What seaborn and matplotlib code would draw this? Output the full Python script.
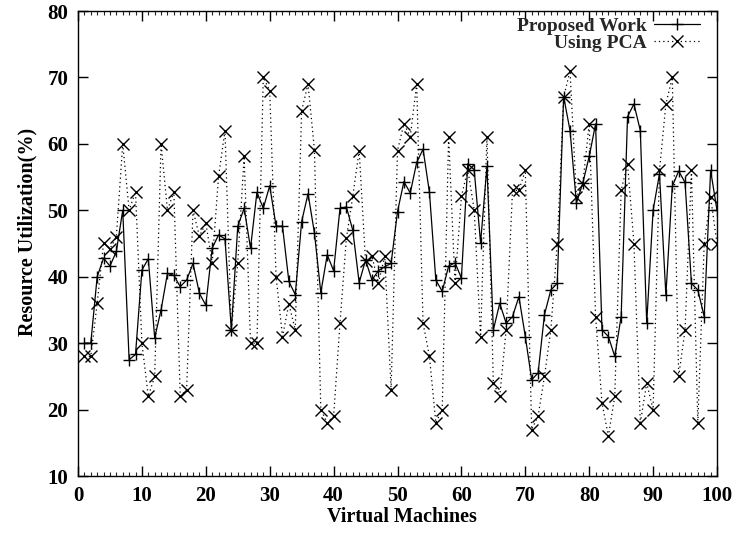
import matplotlib
matplotlib.use("Agg")
import matplotlib.pyplot as plt
import seaborn as sns
import numpy as np
import pandas as pd
from matplotlib.ticker import MultipleLocator

# ---- data ----
vms = list(range(1, 101))
proposed_work = [
    30, 30, 40, 42.8, 41.6, 43.8, 50, 27.5, 28.3, 41,
    42.7, 30.8, 35, 40.5, 40.2, 38.5, 39.5, 42, 37.5, 35.7,
    44.3, 46.3, 45.7, 32, 47.6, 50.3, 44.3, 52.7, 50.3, 53.7,
    47.6, 47.6, 39.3, 37.3, 48.3, 52.5, 46.6, 37.6, 43.3, 40.9,
    50.3, 50.5, 47, 39.1, 42.5, 39.5, 40.9, 41.5, 42, 49.8,
    54.3, 52.6, 57.2, 59.2, 52.7, 39.5, 37.8, 41.6, 42.1, 39.8,
    57, 56.1, 45.1, 56.6, 32, 36, 33, 34, 37, 31,
    24.5, 25.5, 34.3, 38, 39, 67.1, 62, 51.1, 54.1, 58.1,
    63, 32, 31, 28, 34, 64.1, 66, 62, 33, 50,
    55.5, 37.2, 53.6, 55.9, 54.2, 39, 38, 34, 56, 50,
]
using_pca = [
    28, 28, 36, 45.1, 44.2, 46, 60, 50, 52.8, 30,
    22, 25, 60, 50, 52.8, 22, 23, 50, 46.1, 48.1,
    42.1, 55.1, 62, 32, 42.1, 58.1, 30, 30, 70, 68,
    40, 31, 35.9, 32, 65, 69, 59.1, 20, 18, 19,
    33, 45.8, 52.1, 59, 42.3, 43.1, 39, 43.1, 23, 59,
    63, 61.1, 69, 33, 28, 18, 20, 61.1, 39, 52.1,
    56.1, 50.1, 31, 61.1, 24, 22, 32, 53, 53, 56,
    17, 19, 25, 32, 45, 67, 71, 52, 54, 63,
    34, 21, 16, 22, 53, 57, 45, 18, 24, 20,
    56, 66, 70, 25, 32, 56, 18, 45, 52, 45,
]
series_labels = ["Proposed Work", "Using PCA"]
x_label = "Virtual Machines"
y_label = "Resource Utilization(%)"

df = pd.DataFrame({"vm": vms, "proposed": proposed_work, "pca": using_pca})

sns.set_theme(style="ticks")
plt.rcParams["font.family"] = ["Liberation Serif", "DejaVu Serif"]
plt.rcParams["font.weight"] = "bold"

fig = plt.figure(figsize=(7.51, 5.40), dpi=100)
ax = fig.add_axes([78 / 751, 1 - 476 / 540, (717 - 78) / 751, (476 - 11) / 540])

sns.lineplot(data=df, x="vm", y="proposed", ax=ax, color="black", linewidth=0.9,
             marker="+", markersize=9, markeredgewidth=1.0, markeredgecolor="black",
             label=series_labels[0])
sns.lineplot(data=df, x="vm", y="pca", ax=ax, color="black", linewidth=0.9,
             linestyle=(0, (1, 2.5)),
             marker="x", markersize=8, markeredgewidth=1.0, markeredgecolor="black",
             label=series_labels[1])

ax.set_xlim(0, 100)
ax.set_ylim(10, 80)
ax.xaxis.set_major_locator(MultipleLocator(10))
ax.xaxis.set_minor_locator(MultipleLocator(1))
ax.yaxis.set_major_locator(MultipleLocator(10))

for s in ax.spines.values():
    s.set_color("black")
    s.set_linewidth(1.0)

ax.tick_params(axis="both", which="major", direction="in", length=7, width=1,
               top=True, right=True, labelsize=15, colors="black", pad=7)
ax.tick_params(axis="x", which="minor", direction="in", length=3, width=0.8,
               top=True, bottom=True)
for lab in ax.get_xticklabels() + ax.get_yticklabels():
    lab.set_fontweight("bold")

ax.set_xlabel(x_label, fontsize=14.5, fontweight="bold", color="black")
ax.set_ylabel(y_label, fontsize=14.5, fontweight="bold", color="black")
ax.xaxis.set_label_coords(0.507, -0.067)
ax.yaxis.set_label_coords(-0.064, 0.525)

leg = ax.legend(loc="upper right", bbox_to_anchor=(0.977, 0.99), frameon=False,
                markerfirst=False,
                prop={"family": "Liberation Serif", "weight": "bold", "size": 14},
                handlelength=2.4, handletextpad=0.35, labelspacing=-0.05,
                borderaxespad=0.0, borderpad=0.1)

fig.savefig("out.png", dpi=100, facecolor="white")
